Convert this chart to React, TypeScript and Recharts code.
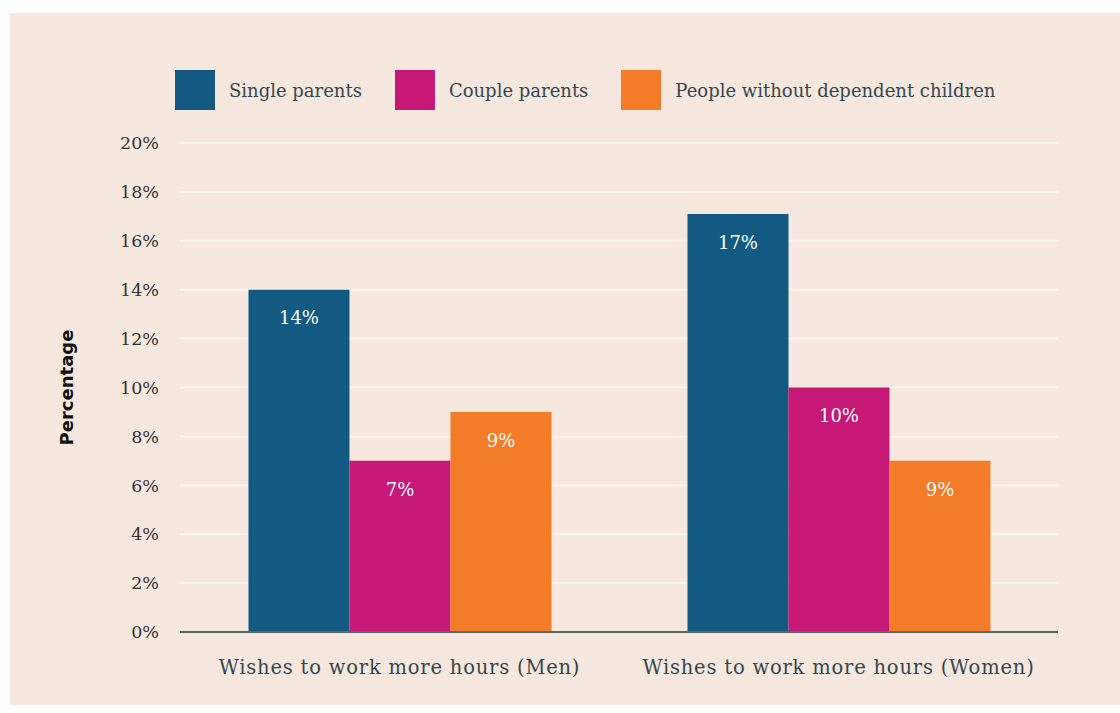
import { Bar, BarChart, CartesianGrid, LabelList, XAxis, YAxis } from "recharts";

const categories = [
  "Wishes to work more hours (Men)",
  "Wishes to work more hours (Women)",
];
const singleParents = [14, 17.1];
const coupleParents = [7, 10];
const withoutChildren = [9, 7];
const singleLabels = ["14%", "17%"];
const coupleLabels = ["7%", "10%"];
const withoutLabels = ["9%", "9%"];
const yTicks = [0, 2, 4, 6, 8, 10, 12, 14, 16, 18, 20];

const SERIES = [
  { key: "single", label: "single_label", name: "Single parents", color: "#125a82" },
  { key: "couple", label: "couple_label", name: "Couple parents", color: "#c51877" },
  { key: "without", label: "without_label", name: "People without dependent children", color: "#f47b27" },
];

const FONT = "'DejaVu Serif', serif";
const TEXT = "#33474f";

const data = categories.map((c, i) => ({
  name: c,
  single: singleParents[i],
  couple: coupleParents[i],
  without: withoutChildren[i],
  single_label: singleLabels[i],
  couple_label: coupleLabels[i],
  without_label: withoutLabels[i],
}));

export default function App() {
  return (
    <div
      style={{
        position: "absolute",
        left: 0,
        top: 0,
        width: 1120,
        height: 713,
        background: "#fff",
        fontFamily: FONT,
      }}
    >
      <div
        style={{
          position: "absolute",
          left: 10,
          top: 13,
          width: 1110,
          height: 692,
          background: "#f6e8de",
        }}
      />
      {/* legend */}
      <div style={{ position: "absolute", left: 175, top: 70, display: "flex", alignItems: "center" }}>
        {SERIES.map((s) => (
          <div key={s.key} style={{ display: "flex", alignItems: "center", marginRight: 33 }}>
            <div style={{ width: 40, height: 40, background: s.color, marginRight: 14 }} />
            <span style={{ fontSize: 18, color: TEXT }}>{s.name}</span>
          </div>
        ))}
      </div>
      <div style={{ position: "absolute", left: 0, top: 0 }}>
        <BarChart
          width={1120}
          height={713}
          data={data}
          margin={{ top: 143, right: 62, bottom: 11, left: 0 }}
          barCategoryGap="15.6%"
          barGap={0}
        >
          <CartesianGrid vertical={false} stroke="#fbf3ee" strokeWidth={2} />
          <XAxis
            dataKey="name"
            axisLine={{ stroke: "#5e6b6c", strokeWidth: 2 }}
            tickLine={false}
            tickSize={0}
            tickMargin={28}
            height={70}
            tick={{ fill: TEXT, fontSize: 19.5, fontFamily: FONT, letterSpacing: 0.8 }}
            interval={0}
          />
          <YAxis
            domain={[0, 20]}
            ticks={yTicks}
            width={180}
            axisLine={false}
            tickLine={false}
            tickSize={0}
            tickMargin={21}
            tickFormatter={(v) => `${v}%`}
            tick={{ fill: "#333", fontSize: 17.5, fontFamily: FONT }}
            label={{
              value: "Percentage",
              angle: -90,
              position: "insideLeft",
              offset: 67,
              style: {
                fill: "#111",
                fontSize: 18,
                fontWeight: "bold",
                fontFamily: "'DejaVu Sans', sans-serif",
                textAnchor: "middle",
              },
            }}
          />
          {SERIES.map((s) => (
            <Bar key={s.key} dataKey={s.key} name={s.name} fill={s.color} isAnimationActive={false}>
              <LabelList
                dataKey={s.label}
                position="insideTop"
                offset={22}
                fill="#fff"
                fontSize={18}
                fontFamily={FONT}
              />
            </Bar>
          ))}
        </BarChart>
      </div>
    </div>
  );
}
